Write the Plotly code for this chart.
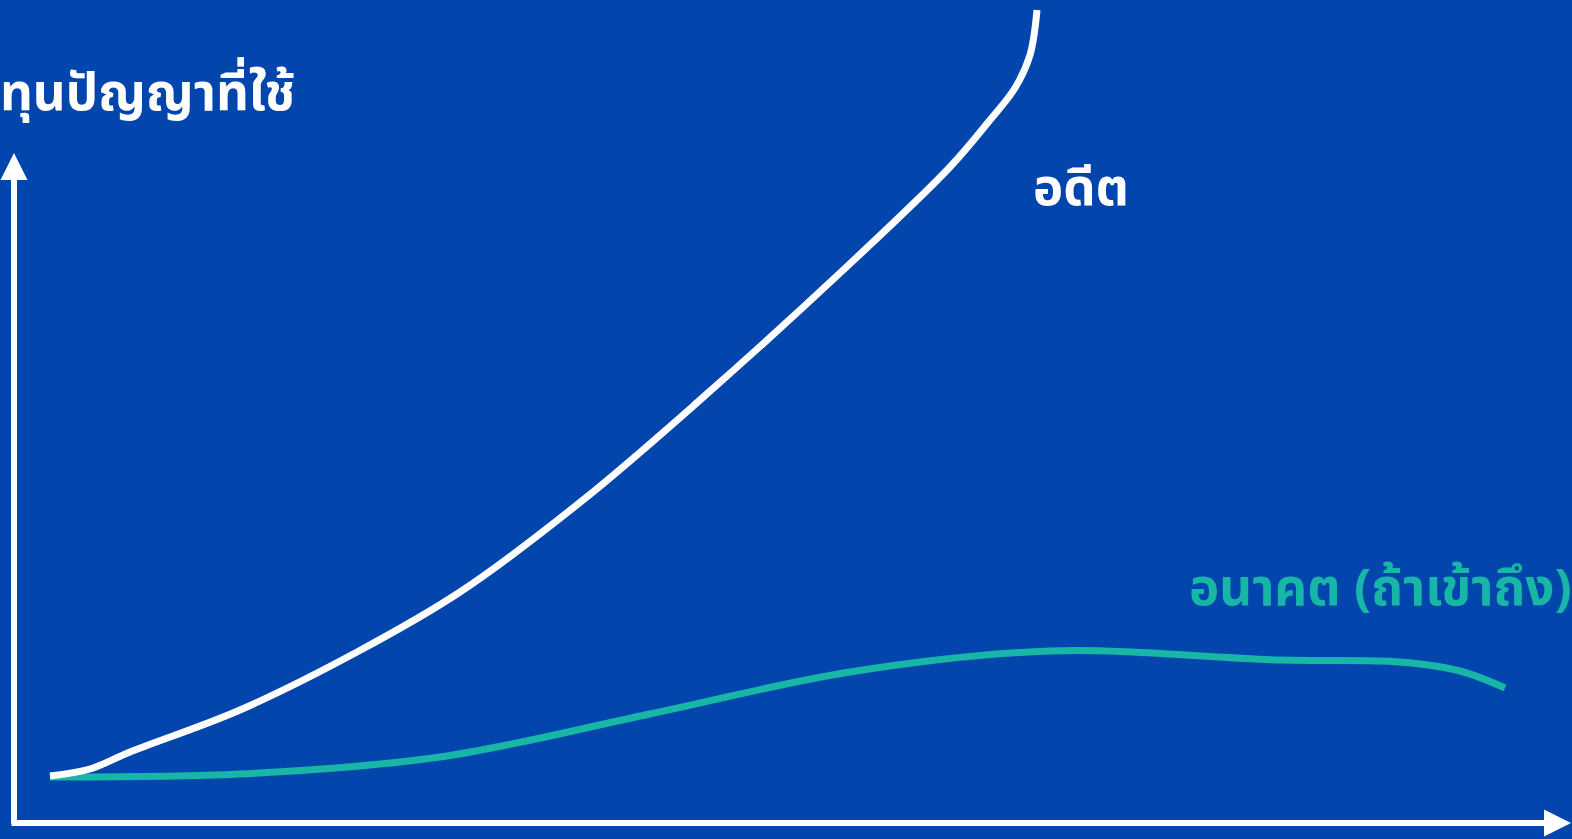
import plotly.graph_objects as go

W, H = 1572, 839

# Chart values (x = time position, y = intellectual capital level)
past_x = [50, 90, 130, 240, 357, 460, 583, 700, 840, 950, 990, 1015, 1030, 1037]
past_y = [63, 70, 87, 129, 187, 247, 339, 439, 566, 672, 719, 751, 784, 829]

future_x = [50, 240, 440, 650, 850, 1050, 1280, 1400, 1460, 1505]
future_y = [62, 65, 82, 125, 167, 188, 179, 177, 168, 151]

labels = {
    "yaxis": "ทุนปัญญาที่ใช้",
    "past": "อดีต",
    "future": "อนาคต (ถ้าเข้าถึง)",
}

BG = "#0245AC"
TEAL = "#17B6A6"
WHITE = "#FFFFFF"
FONT = "Noto Sans Thai, Noto Sans, Noto Sans CJK SC, sans-serif"

fig = go.Figure()
fig.add_trace(go.Scatter(x=future_x, y=future_y, mode="lines",
                         line=dict(color=TEAL, width=7, shape="spline", smoothing=1.0),
                         hoverinfo="skip"))
fig.add_trace(go.Scatter(x=past_x, y=past_y, mode="lines",
                         line=dict(color=WHITE, width=7, shape="spline", smoothing=1.0),
                         hoverinfo="skip"))

# axes arrows
fig.add_annotation(x=14, y=686, ax=14, ay=14, xref="x", yref="y", axref="x", ayref="y",
                   showarrow=True, arrowhead=2, arrowsize=0.9, arrowwidth=6, arrowcolor=WHITE, text="")
fig.add_annotation(x=1571, y=16, ax=10, ay=16, xref="x", yref="y", axref="x", ayref="y",
                   showarrow=True, arrowhead=2, arrowsize=0.9, arrowwidth=6, arrowcolor=WHITE, text="")

fig.add_annotation(x=0, y=745, xref="paper", yref="y", xshift=-2, text="<b>" + labels["yaxis"] + "</b>",
                   showarrow=False, xanchor="left", yanchor="middle",
                   font=dict(family=FONT, size=51, color=WHITE))
fig.add_annotation(x=1031, y=650, xref="x", yref="y", text="<b>" + labels["past"] + "</b>",
                   showarrow=False, xanchor="left", yanchor="middle",
                   font=dict(family=FONT, size=51, color=WHITE))
fig.add_annotation(x=1187, y=250, xref="x", yref="y", text="<b>" + labels["future"] + "</b>",
                   showarrow=False, xanchor="left", yanchor="middle",
                   font=dict(family=FONT, size=51, color=TEAL))

fig.update_layout(
    width=W, height=H,
    margin=dict(l=0, r=0, t=0, b=0),
    paper_bgcolor=BG, plot_bgcolor=BG,
    showlegend=False,
    xaxis=dict(range=[0, W], visible=False, fixedrange=True),
    yaxis=dict(range=[0, H], visible=False, fixedrange=True),
)

fig.write_html("out.html", config={"displayModeBar": False},
               post_script="document.body.style.margin='0';document.body.style.overflow='hidden';"
                           "document.body.style.background='" + BG + "';")
